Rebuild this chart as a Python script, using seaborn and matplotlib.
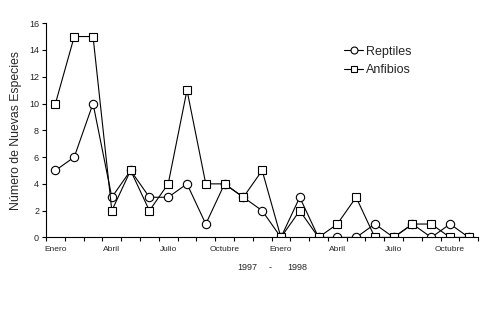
import matplotlib
matplotlib.use("Agg")
import matplotlib.pyplot as plt
import seaborn as sns
import pandas as pd
import numpy as np
from matplotlib.ticker import FixedLocator

months = ["Ene97", "Feb97", "Mar97", "Abr97", "May97", "Jun97", "Jul97", "Ago97",
          "Sep97", "Oct97", "Nov97", "Dic97", "Ene98", "Feb98", "Mar98", "Abr98",
          "May98", "Jun98", "Jul98", "Ago98", "Sep98", "Oct98", "Nov98"]
reptiles = [5, 6, 10, 3, 5, 3, 3, 4, 1, 4, 3, 2, 0, 3, 0, 0, 0, 1, 0, 1, 0, 1, 0]
anfibios = [10, 15, 15, 2, 5, 2, 4, 11, 4, 4, 3, 5, 0, 2, 0, 1, 3, 0, 0, 1, 1, 0, 0]
tick_labels = ["Enero", "Abril", "Julio", "Octubre", "Enero", "Abril", "Julio", "Octubre"]
tick_idx = [0, 3, 6, 9, 12, 15, 18, 21]
series_names = ["Reptiles", "Anfibios"]

sns.set_theme(style="ticks")
plt.rcParams['font.family'] = ['Liberation Sans', 'DejaVu Sans']

df = pd.DataFrame({
    "x": list(range(len(months))) * 2,
    "valor": reptiles + anfibios,
    "serie": [series_names[0]] * len(months) + [series_names[1]] * len(months),
})

fig = plt.figure(figsize=(4.9, 3.17), dpi=100)
ax = fig.add_axes([0.094, 0.251, 0.882, 0.676])

sns.lineplot(data=df, x="x", y="valor", hue="serie", style="serie",
             markers={"Reptiles": "o", "Anfibios": "s"}, dashes=False,
             palette={"Reptiles": "black", "Anfibios": "black"},
             markerfacecolor="white", markeredgecolor="black", markeredgewidth=0.8,
             markersize=6, linewidth=0.8, ax=ax, legend=True)

ax.set_xlim(-0.5, len(months) - 0.5)
ax.set_ylim(0, 16)
ax.set_yticks(range(0, 17, 2))
ax.set_xticks(tick_idx)
ax.set_xticklabels(tick_labels)
ax.xaxis.set_minor_locator(FixedLocator(np.arange(-0.5, len(months), 1.0)))
ax.tick_params(axis="x", which="major", length=0, labelsize=6, pad=6)
ax.tick_params(axis="x", which="minor", length=3, width=0.8, color="black")
ax.tick_params(axis="y", which="major", length=3, width=0.8, labelsize=6.5, color="black", pad=2)
for s in ["top", "right"]:
    ax.spines[s].set_visible(False)
for s in ["left", "bottom"]:
    ax.spines[s].set_linewidth(0.8)
    ax.spines[s].set_color("black")
ax.set_xlabel("")
ax.set_ylabel("Número de Nuevas Especies", fontsize=8.8, labelpad=5)

leg = ax.legend(frameon=False, loc="upper left", bbox_to_anchor=(0.69, 0.895),
                borderaxespad=0, borderpad=0,
                fontsize=9, handlelength=1.5, handletextpad=0.25, labelspacing=0.5)
for h in leg.legend_handles:
    h.set_markersize(5)

fig.text(237 / 490, 1 - 268 / 317, "1997", fontsize=6.5, va="center", ha="left")
fig.text(270 / 490, 1 - 268 / 317, "-", fontsize=6.5, va="center", ha="center")
fig.text(287 / 490, 1 - 268 / 317, "1998", fontsize=6.5, va="center", ha="left")

fig.savefig("out.png", dpi=100, facecolor="white")
